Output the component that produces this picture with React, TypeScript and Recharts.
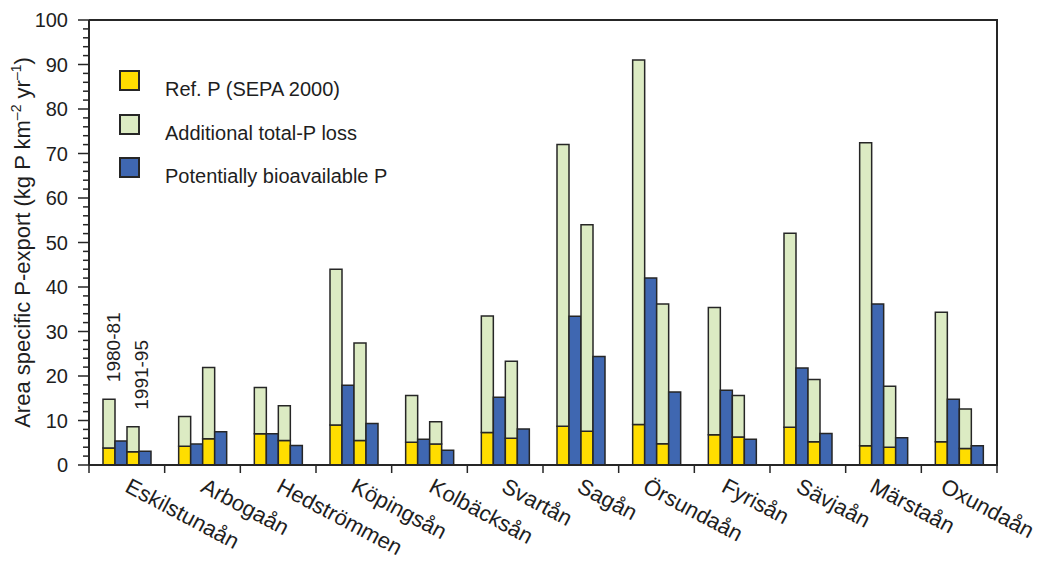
import { BarChart, Bar, XAxis, YAxis } from "recharts";

const rivers = [
  "Eskilstunaån",
  "Arbogaån",
  "Hedströmmen",
  "Köpingsån",
  "Kolbäcksån",
  "Svartån",
  "Sagån",
  "Örsundaån",
  "Fyrisån",
  "Sävjaån",
  "Märstaån",
  "Oxundaån",
];

// 1980-81
const ref8081 = [3.8, 4.2, 7.0, 9.0, 5.1, 7.3, 8.7, 9.1, 6.8, 8.5, 4.3, 5.2];
const total8081 = [14.8, 10.9, 17.4, 44.0, 15.6, 33.5, 72.0, 91.0, 35.4, 52.1, 72.4, 34.3];
const bio8081 = [5.4, 4.7, 7.0, 17.9, 5.8, 15.2, 33.4, 42.0, 16.8, 21.8, 36.2, 14.8];

// 1991-95
const ref9195 = [3.0, 5.9, 5.5, 5.5, 4.7, 6.0, 7.6, 4.8, 6.3, 5.2, 4.0, 3.7];
const total9195 = [8.6, 21.9, 13.3, 27.4, 9.7, 23.3, 54.0, 36.2, 15.6, 19.2, 17.7, 12.6];
const bio9195 = [3.1, 7.5, 4.4, 9.3, 3.3, 8.1, 24.4, 16.4, 5.8, 7.1, 6.1, 4.3];

const periods = ["1980-81", "1991-95"];
const legendLabels = ["Ref. P (SEPA 2000)", "Additional total-P loss", "Potentially bioavailable P"];
const yTicks = Array.from({ length: 51 }, (_, i) => i * 2);

// small hand nudges of the slanted river names (the original places them by hand)
const labelNudge = [-3, -3, -3, -4, -2, -5, -5, -15, -12, -13, -15, -20];

const YELLOW = "#ffdd00";
const GREEN = "#dcebc3";
const BLUE = "#3f67b1";
const EDGE = "#262626";
const TXT = "#1e1e1e";
const FONT = "'Liberation Sans', Arial, Helvetica, sans-serif";

const W = 1040;
const H = 565;
const M = { top: 20, right: 43, left: 0, bottom: 0 };
const Y_W = 89;
const X_H = 100;
const PLOT_W = W - M.left - M.right - Y_W;
const PLOT_H = H - M.top - M.bottom - X_H;

const data = rivers.map((name, i) => ({
  name,
  ref1: ref8081[i],
  add1: +(total8081[i] - ref8081[i]).toFixed(1),
  bio1: bio8081[i],
  ref2: ref9195[i],
  add2: +(total9195[i] - ref9195[i]).toFixed(1),
  bio2: bio9195[i],
}));

const YTick = (props: any) => {
  const { x, y, payload } = props;
  const major = payload.value % 10 === 0;
  return (
    <g>
      <line x1={x} x2={x - (major ? 11 : 6)} y1={y} y2={y} stroke={EDGE} strokeWidth={1.5} />
      {major && (
        <text x={x - 21} y={y} dy="0.36em" textAnchor="end" fontSize={20} fill={TXT}>
          {payload.value}
        </text>
      )}
    </g>
  );
};

const XTick = (props: any) => {
  const { x, y, payload, index } = props;
  const half = PLOT_W / rivers.length / 2;
  const nudge = labelNudge[index] ?? -3;
  return (
    <g>
      <line x1={x - half} x2={x - half} y1={y} y2={y + 8} stroke={EDGE} strokeWidth={1.5} />
      {index === rivers.length - 1 && (
        <line x1={x + half} x2={x + half} y1={y} y2={y + 8} stroke={EDGE} strokeWidth={1.5} />
      )}
      <text
        transform={`translate(${x + nudge},${y + 26}) rotate(28)`}
        textAnchor="start"
        fontSize={22}
        fill={TXT}
      >
        {payload.value}
      </text>
    </g>
  );
};

const YLabel = (props: any) => {
  const vb = props.viewBox || { x: 0, y: M.top, width: Y_W, height: PLOT_H };
  const cx = vb.x + 30;
  const cy = vb.y + vb.height / 2;
  return (
    <text
      transform={`translate(${cx},${cy}) rotate(-90)`}
      textAnchor="middle"
      fontSize={22}
      fill={TXT}
    >
      Area specific P-export (kg P km
      <tspan fontSize={14} dy={-9}>–2</tspan>
      <tspan dy={9}> yr</tspan>
      <tspan fontSize={14} dy={-9}>–1</tspan>
      <tspan dy={9}>)</tspan>
    </text>
  );
};

const periodLabel = (period: string, shift: number) => (props: any) => {
  const { x, y, width, index } = props;
  if (index !== 0) return null;
  const bx = x + width + shift;
  const by = y - 17;
  return (
    <text
      transform={`translate(${bx},${by}) rotate(-90)`}
      textAnchor="start"
      fontSize={19}
      fill={TXT}
    >
      {period}
    </text>
  );
};

const legendColors = [YELLOW, GREEN, BLUE];

export default function App() {
  return (
    <div
      style={{
        position: "absolute",
        left: 0,
        top: 0,
        width: W,
        height: H,
        background: "#fff",
        fontFamily: FONT,
      }}
    >
      <BarChart
        width={W}
        height={H}
        data={data}
        margin={M}
        barCategoryGap={14}
        barGap={0}
      >
        <XAxis
          dataKey="name"
          height={X_H}
          interval={0}
          tick={<XTick />}
          tickLine={false}
          tickSize={0}
          tickMargin={0}
          axisLine={{ stroke: EDGE, strokeWidth: 2 }}
        />
        <YAxis
          width={Y_W}
          domain={[0, 100]}
          ticks={yTicks}
          interval={0}
          tick={<YTick />}
          tickLine={false}
          tickSize={0}
          tickMargin={0}
          axisLine={{ stroke: EDGE, strokeWidth: 2 }}
          label={<YLabel />}
        />
        <Bar dataKey="ref1" stackId="s1" fill={YELLOW} stroke={EDGE} strokeWidth={1.5} isAnimationActive={false} />
        <Bar
          dataKey="add1"
          stackId="s1"
          fill={GREEN}
          stroke={EDGE}
          strokeWidth={1.5}
          isAnimationActive={false}
          label={periodLabel(periods[0], 5)}
        />
        <Bar dataKey="bio1" stackId="s2" fill={BLUE} stroke={EDGE} strokeWidth={1.5} isAnimationActive={false} />
        <Bar dataKey="ref2" stackId="s3" fill={YELLOW} stroke={EDGE} strokeWidth={1.5} isAnimationActive={false} />
        <Bar
          dataKey="add2"
          stackId="s3"
          fill={GREEN}
          stroke={EDGE}
          strokeWidth={1.5}
          isAnimationActive={false}
          label={periodLabel(periods[1], 9)}
        />
        <Bar dataKey="bio2" stackId="s4" fill={BLUE} stroke={EDGE} strokeWidth={1.5} isAnimationActive={false} />
      </BarChart>
      {/* top and right edge of the plot frame */}
      <div
        style={{
          position: "absolute",
          left: M.left + Y_W,
          top: M.top - 1,
          width: PLOT_W - 1,
          height: PLOT_H,
          borderTop: `2px solid ${EDGE}`,
          borderRight: `2px solid ${EDGE}`,
          pointerEvents: "none",
          zIndex: 2,
        }}
      />
      <div style={{ position: "absolute", left: 119, top: 70 }}>
        {legendLabels.map((label, i) => (
          <div key={label} style={{ position: "absolute", left: 0, top: i * 43.5 }}>
            <div
              style={{
                width: 21,
                height: 21,
                boxSizing: "border-box",
                border: `2px solid ${EDGE}`,
                background: legendColors[i],
              }}
            />
            <div
              style={{
                position: "absolute",
                left: 46,
                top: 9,
                fontSize: 20,
                lineHeight: "20px",
                whiteSpace: "nowrap",
                color: TXT,
              }}
            >
              {label}
            </div>
          </div>
        ))}
      </div>
    </div>
  );
}
